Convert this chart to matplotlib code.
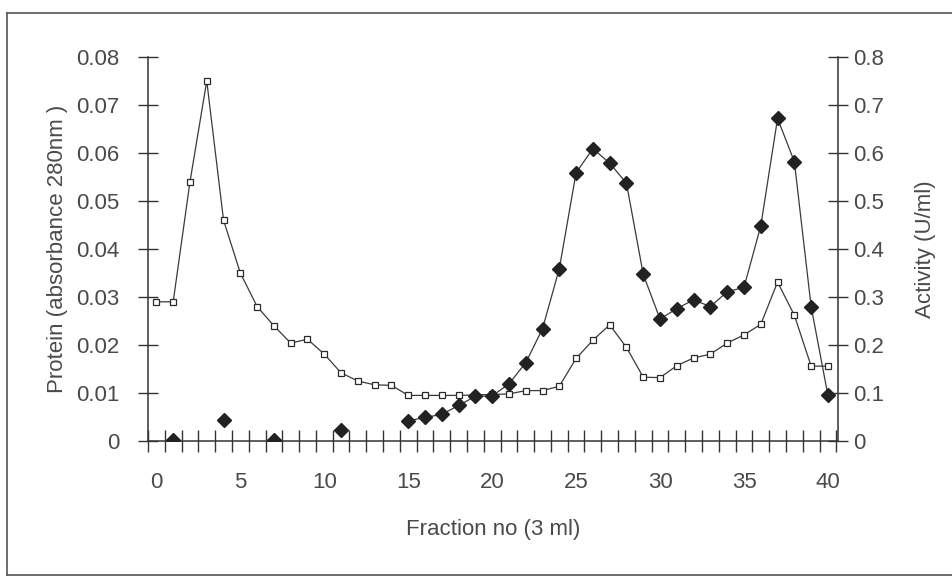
import numpy as np
import matplotlib
matplotlib.use("Agg")
import matplotlib.pyplot as plt
from matplotlib import font_manager
from matplotlib.lines import Line2D

fractions = list(range(0, 41))
protein = [0.029, 0.029, 0.054, 0.075, 0.046, 0.035, 0.028, 0.024, 0.0204, 0.0212,
           0.0181, 0.0142, 0.0125, 0.0117, 0.0116, 0.0095, 0.0095, 0.0095, 0.0095, 0.0096,
           0.0097, 0.0098, 0.0105, 0.0105, 0.0114, 0.0172, 0.021, 0.0242, 0.0195, 0.0133,
           0.0132, 0.0157, 0.0173, 0.0181, 0.0204, 0.0221, 0.0243, 0.0331, 0.0262, 0.0156,
           0.0156]
nan = float("nan")
activity = [nan, 0.003, nan, nan, 0.043, nan, nan, 0.003, nan, nan,
            nan, 0.022, nan, nan, nan, 0.042, 0.049, 0.0555, 0.074, 0.093,
            0.094, 0.119, 0.163, 0.234, 0.359, 0.559, 0.609, 0.579, 0.537, 0.347,
            0.254, 0.276, 0.294, 0.280, 0.311, 0.320, 0.448, 0.672, 0.582, 0.28,
            0.095]
left_ticks = [0, 0.01, 0.02, 0.03, 0.04, 0.05, 0.06, 0.07, 0.08]
left_labels = ["0", "0.01", "0.02", "0.03", "0.04", "0.05", "0.06", "0.07", "0.08"]
right_ticks = [0, 0.1, 0.2, 0.3, 0.4, 0.5, 0.6, 0.7, 0.8]
right_labels = ["0", "0.1", "0.2", "0.3", "0.4", "0.5", "0.6", "0.7", "0.8"]
x_label_vals = [0, 5, 10, 15, 20, 25, 30, 35, 40]

names = {f.name for f in font_manager.fontManager.ttflist}
fam = "Liberation Sans Narrow" if "Liberation Sans Narrow" in names else "Liberation Sans"
plt.rcParams["font.family"] = [fam, "DejaVu Sans"]

txt = "#4a4a4a"
axc = "#333333"
fs = 16

fig = plt.figure(figsize=(9.52, 5.79), dpi=100)
W, H = 952, 579
ax = fig.add_axes([148 / W, 1 - 441 / H, 690 / W, 384 / H])
ax2 = ax.twinx()

ax.plot(fractions, protein, color="#3a3a3a", lw=0.9, marker="s", ms=4.2,
        mfc="white", mec="#2a2a2a", mew=0.9, zorder=3)
ax2.plot(fractions, activity, color="#3a3a3a", lw=0.9, marker="D", ms=7,
         mfc="#222222", mec="#222222", zorder=4)

ax.set_xlim(-0.45, 40.6)
ax.set_ylim(0, 0.08)
ax2.set_ylim(0, 0.8)

for a in (ax, ax2):
    a.spines["top"].set_visible(False)
    a.patch.set_visible(False)
ax.spines["right"].set_visible(False)
ax2.spines["left"].set_visible(False)
ax2.spines["bottom"].set_visible(False)
ax.spines["left"].set_color(axc)
ax.spines["bottom"].set_color(axc)
ax2.spines["right"].set_color(axc)
ax.spines["left"].set_linewidth(1.1)
ax.spines["bottom"].set_linewidth(1.1)
ax2.spines["right"].set_linewidth(1.1)

ax.set_yticks(left_ticks)
ax.set_yticklabels(left_labels)
ax2.set_yticks(right_ticks)
ax2.set_yticklabels(right_labels)
ax.tick_params(axis="y", direction="inout", length=15, width=1, color=axc,
               labelsize=fs, labelcolor=txt, pad=13)
ax2.tick_params(axis="y", direction="inout", length=14, width=1, color=axc,
                labelsize=fs, labelcolor=txt, pad=4)

ax.set_xticks(x_label_vals)
ax.set_xticklabels([str(v) for v in x_label_vals])
ax.set_xticks([k + 0.5 for k in range(-1, 41)], minor=True)
ax.tick_params(axis="x", which="major", length=0, labelsize=fs, labelcolor=txt, pad=22)
ax.tick_params(axis="x", which="minor", direction="inout", length=16, width=1, color=axc)

ax.set_xlabel("Fraction no (3 ml)", fontsize=fs, color=txt, labelpad=19)
ax.set_ylabel("Protein (absorbance 280nm )", fontsize=fs, color=txt, labelpad=6)
ax2.set_ylabel("Activity (U/ml)", fontsize=fs, color=txt, labelpad=22)

# chart area frame
fx0, fx1 = 7 / W, 1.01
fy0, fy1 = 1 - 575 / H, 1 - 13 / H
for xs, ys in [([fx0, fx1], [fy1, fy1]), ([fx0, fx1], [fy0, fy0]), ([fx0, fx0], [fy0, fy1])]:
    fig.add_artist(Line2D(xs, ys, transform=fig.transFigure, color="#555555", lw=1.2))

fig.savefig("out.png", dpi=100)
